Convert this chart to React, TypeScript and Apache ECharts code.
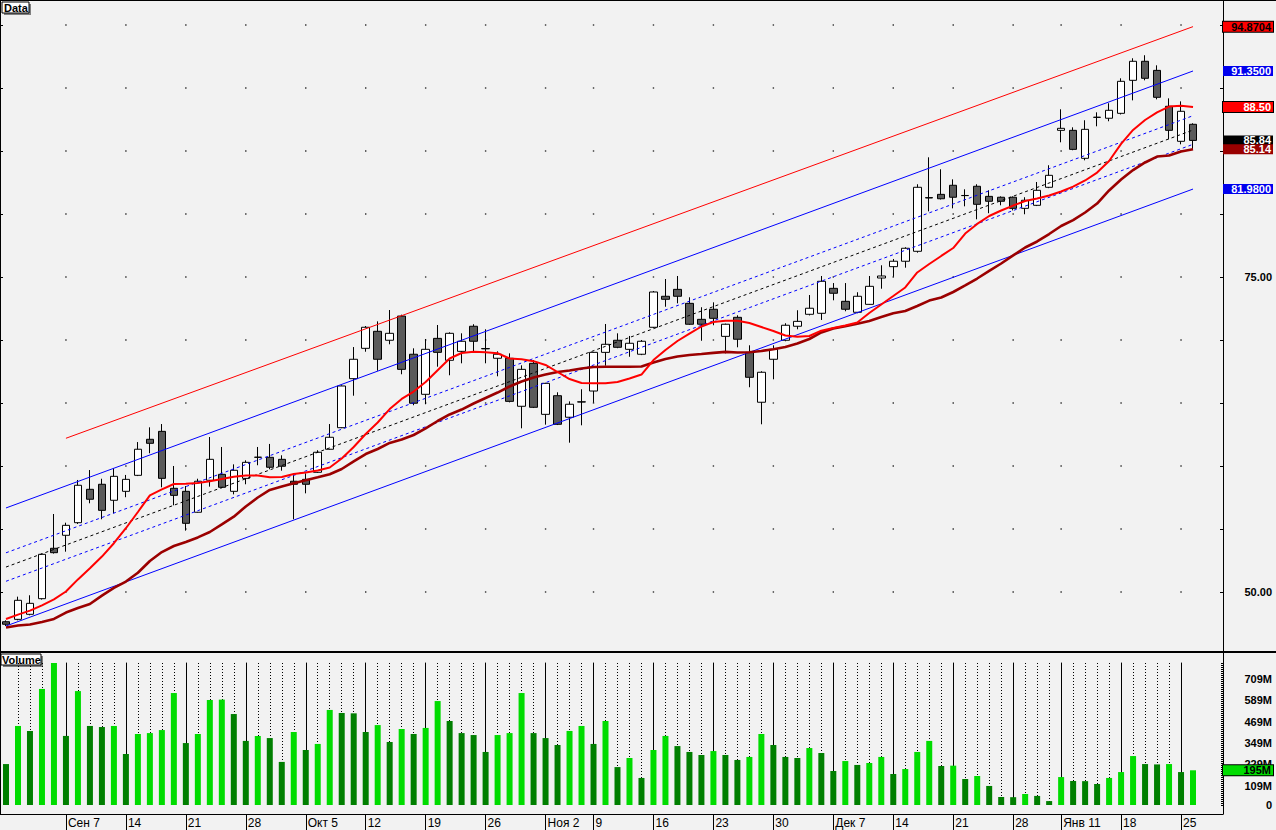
import React, { useEffect, useRef } from "react";
import * as echarts from "echarts";

// ---------- axis / tick data ----------
const slotCount = 102; // 100 trading days + 2 empty slots on the right
const categories = Array.from({ length: slotCount }, (_, i) => String(i));
const tickIndex = [5, 10, 15, 20, 25, 30, 35, 40, 45, 49, 54, 59, 64, 69, 74, 79, 84, 88, 93, 98];
const tickText = ["Сен 7", "14", "21", "28", "Окт 5", "12", "19", "26", "Ноя 2", "9", "16", "23", "30", "Дек 7", "14", "21", "28", "Янв 11", "18", "25"];
const priceTicks = [50, 55, 60, 65, 70, 75, 80, 85, 90, 95];
const priceLabels = [50, 75];
const volumeLabels = [0, 109, 229, 349, 469, 589, 709];

// ---------- OHLC ----------
const opens = [47.64, 47.83, 48.23, 49.47, 53.47, 54.5, 55.5, 58.15, 58.55, 57.28, 57.99, 59.26, 62.12, 62.75, 58.23, 57.99, 56.33, 58.87, 59.34, 57.99, 59.02, 60.7, 60.69, 60.53, 58.79, 58.94, 59.5, 61.33, 63.04, 66.93, 69.34, 70.69, 69.98, 71.9, 68.87, 65.69, 70.13, 68.39, 69.1, 71.09, 69.32, 68.55, 68.55, 64.74, 68.15, 64.1, 65.58, 63.87, 65.09, 65.95, 69.02, 69.98, 69.26, 68.87, 71.01, 73.47, 74.02, 72.91, 71.64, 72.44, 70.29, 71.8, 69.02, 65.06, 68.47, 69.98, 71.09, 72.04, 72.12, 74.1, 73.07, 72.2, 72.83, 74.92, 75.82, 76.25, 77.04, 81.3, 81.56, 82.28, 81.47, 82.2, 81.4, 81.33, 81.33, 80.45, 80.69, 82.12, 86.64, 86.64, 84.42, 87.68, 87.6, 87.99, 90.61, 92.12, 91.4, 88.55, 85.77, 87.12];
const closes = [47.44, 49.34, 49.1, 52.99, 53.12, 55.29, 58.47, 57.36, 56.48, 59.18, 58.94, 61.33, 61.8, 59.02, 57.67, 55.45, 58.79, 60.53, 58.31, 59.66, 60.29, 60.69, 59.9, 59.98, 58.55, 58.55, 61.09, 62.28, 66.35, 68.47, 71.01, 68.47, 70.53, 67.67, 64.98, 69.26, 69.02, 70.53, 69.9, 69.9, 69.3, 68.87, 65.13, 67.67, 64.66, 66.56, 63.31, 64.9, 65.08, 69.02, 69.66, 69.42, 69.74, 69.9, 73.81, 73.23, 73.47, 71.25, 71.25, 71.72, 71.25, 70.06, 67.04, 67.44, 69.26, 71.17, 71.48, 72.52, 74.66, 73.71, 72.44, 73.47, 74.26, 75.08, 76.25, 77.28, 82.12, 81.27, 81.21, 81.33, 81.46, 80.77, 81.01, 81.01, 80.45, 81.09, 81.88, 83.07, 86.8, 85.13, 86.72, 87.67, 88.23, 90.53, 92.12, 90.77, 89.26, 86.64, 88.15, 85.84];
const lows = [47.3, 47.75, 48.15, 49.4, 53.05, 53.2, 55.4, 57.04, 55.77, 56.25, 57.52, 59.2, 61.01, 58.31, 56.88, 54.87, 56.3, 58.36, 58.23, 57.75, 58.55, 60.06, 59.74, 59.63, 55.77, 57.83, 59.45, 61.3, 63.0, 65.58, 69.07, 67.56, 69.66, 67.28, 64.82, 64.9, 67.88, 67.2, 68.15, 69.1, 68.15, 67.12, 65.05, 62.99, 64.6, 63.28, 63.25, 61.85, 63.23, 65.02, 67.96, 69.35, 68.67, 68.8, 70.95, 72.64, 72.91, 71.2, 69.94, 71.17, 68.94, 69.42, 66.25, 63.31, 66.88, 69.9, 70.85, 71.95, 71.59, 73.15, 72.28, 72.12, 72.8, 74.07, 75.02, 75.74, 76.93, 80.21, 81.15, 80.45, 80.61, 79.58, 80.06, 80.69, 80.29, 79.98, 80.63, 82.05, 85.69, 85.06, 84.26, 86.96, 87.36, 87.9, 89.02, 90.61, 89.1, 85.93, 85.53, 85.13];
const highs = [47.75, 49.63, 49.74, 53.05, 56.19, 55.5, 58.89, 59.68, 58.99, 59.82, 59.29, 61.9, 63.07, 63.33, 60.0, 58.41, 58.99, 62.3, 61.51, 60.13, 60.45, 61.51, 61.75, 60.85, 59.34, 59.42, 61.25, 63.33, 66.4, 69.44, 71.11, 71.48, 72.38, 72.01, 69.34, 70.08, 71.19, 70.61, 70.53, 71.25, 70.85, 69.1, 68.94, 67.99, 68.41, 66.6, 65.85, 65.13, 66.09, 69.05, 71.27, 70.53, 70.32, 70.0, 73.89, 74.84, 75.08, 73.39, 72.6, 72.99, 71.3, 71.96, 69.58, 67.52, 69.58, 71.33, 72.36, 73.57, 75.08, 74.52, 74.52, 73.79, 75.08, 75.93, 76.43, 77.36, 82.36, 84.5, 83.55, 82.75, 81.96, 82.36, 81.88, 81.4, 81.4, 81.33, 82.54, 83.87, 88.31, 86.88, 87.44, 88.07, 88.79, 90.77, 92.36, 92.6, 91.8, 89.18, 88.94, 87.2];

// ---------- volume (millions) ----------
const volumes = [230, 444, 416, 652, 798, 388, 640, 444, 438, 444, 287, 399, 404, 421, 629, 348, 399, 590, 592, 511, 360, 388, 376, 242, 410, 309, 343, 534, 517, 515, 410, 449, 354, 427, 399, 433, 584, 472, 404, 393, 298, 393, 404, 629, 404, 376, 337, 416, 444, 343, 472, 213, 264, 152, 309, 388, 331, 298, 281, 303, 281, 253, 270, 399, 337, 270, 264, 320, 292, 191, 247, 225, 236, 270, 174, 202, 298, 360, 219, 221, 146, 163, 107, 45, 44, 62, 51, 22, 157, 135, 134, 118, 152, 185, 275, 230, 228, 230, 185, 195];

// ---------- moving averages ----------
const fastMA = [47.86, 48.2, 48.52, 48.94, 49.42, 50.04, 51.0, 51.88, 52.81, 53.87, 55.06, 56.35, 57.67, 58.14, 58.57, 58.6, 58.65, 58.79, 58.97, 59.15, 59.25, 59.25, 59.1, 59.13, 59.37, 59.48, 59.64, 59.88, 60.6, 61.51, 62.54, 63.45, 64.52, 65.32, 65.91, 66.67, 67.6, 68.53, 68.97, 69.06, 69.03, 68.95, 68.53, 68.47, 68.32, 68.02, 67.46, 66.9, 66.59, 66.56, 66.56, 66.67, 66.94, 67.26, 68.41, 69.21, 69.92, 70.5, 71.07, 71.43, 71.53, 71.53, 71.35, 71.03, 70.71, 70.36, 70.26, 70.32, 70.74, 70.95, 71.15, 71.39, 72.14, 72.82, 73.49, 74.17, 75.36, 76.03, 76.67, 77.3, 78.45, 79.21, 79.84, 80.28, 80.67, 81.03, 81.23, 81.47, 81.79, 82.17, 82.66, 83.29, 84.21, 85.56, 86.67, 87.46, 88.06, 88.53, 88.6, 88.5];
const slowMA = [47.18, 47.34, 47.42, 47.62, 47.86, 48.37, 48.73, 49.05, 49.71, 50.32, 50.83, 51.53, 52.46, 53.17, 53.65, 53.97, 54.33, 54.76, 55.36, 55.98, 56.79, 57.5, 58.1, 58.37, 58.63, 58.87, 59.1, 59.35, 59.76, 60.36, 60.95, 61.35, 61.83, 62.1, 62.46, 62.98, 63.57, 64.09, 64.48, 64.96, 65.4, 65.83, 66.31, 66.71, 67.02, 67.26, 67.46, 67.58, 67.74, 67.86, 67.88, 67.88, 67.88, 67.9, 68.21, 68.49, 68.69, 68.81, 68.89, 68.98, 69.06, 69.01, 69.03, 69.13, 69.26, 69.44, 69.72, 70.08, 70.6, 70.91, 71.09, 71.29, 71.51, 71.83, 72.12, 72.3, 72.7, 73.13, 73.37, 73.81, 74.33, 74.88, 75.48, 76.07, 76.71, 77.34, 77.82, 78.41, 79.05, 79.52, 80.12, 80.83, 81.87, 82.74, 83.49, 84.09, 84.56, 84.64, 84.96, 85.14];

// ---------- channel lines (start / end) ----------
const channelIdx = [0, 99];
const redIdx = [5, 99];
const redUpper = [62.2, 94.8704];
const channelUpper = [56.67, 91.35];
const devUpper = [53.11, 87.8];
const channelMid = [51.98, 86.665];
const devLower = [50.85, 85.53];
const channelLower = [47.3, 81.98];

const FONT = "'Liberation Sans', Arial, sans-serif";
const BRIGHT = "#00dc00";
const DARK = "#007f00";
const CLEAR = "rgba(0,0,0,0)";

const rulerTicks = Array.from({ length: 72 }, (_, k) => k * 11.2);

function pairs(idx: number[], vals: number[]) {
  return idx.map((x, k) => [x, vals[k]]);
}

function boxLabel(text: string, bg: string, fg: string, bordered: boolean) {
  return {
    show: true,
    position: "end",
    distance: 0,
    formatter: "{v|" + text + "}",
    backgroundColor: bg,
    borderColor: bordered ? "#000" : bg,
    borderWidth: bordered ? 1 : 0,
    padding: [0, 2, 0, 0],
    width: 48,
    opacity: 1,
    rich: {
      v: { color: fg, fontFamily: FONT, fontSize: 11, fontWeight: "bold", align: "right", lineHeight: 10 },
    },
  };
}

function lineSeries(name: string, data: any[], color: string, width: number, type: any = "solid") {
  return {
    name,
    type: "line",
    xAxisIndex: 0,
    yAxisIndex: 0,
    data,
    showSymbol: false,
    symbol: "none",
    silent: true,
    z: 4,
    lineStyle: { color, width, type },
  };
}

function buildOption(): any {
  const candles = opens.map((o, i) => [o, closes[i], lows[i], highs[i]]);
  const dots: number[][] = [];
  tickIndex.forEach((ti) => priceTicks.forEach((p) => dots.push([ti, p])));

  const gridLines: any[] = [];
  for (let i = 1; i <= 98; i++) {
    const solid = tickIndex.includes(i);
    gridLines.push([
      { coord: [i, 0], lineStyle: { type: solid ? "solid" : [1, 2], color: "#000", width: 1 } },
      { coord: [i, 800] },
    ]);
  }

  const last = closes.length - 1;
  const volBars = volumes.map((v, i) => ({
    value: v,
    itemStyle: { color: i > 0 && v > volumes[i - 1] ? BRIGHT : DARK },
  }));

  return {
    animation: false,
    backgroundColor: "#f2f2f2",
    grid: [
      { left: 0, top: 1, width: 1223, height: 650 },
      { left: 0, top: 653, width: 1223, height: 161 },
    ],
    xAxis: [
      {
        type: "category",
        gridIndex: 0,
        data: categories,
        boundaryGap: true,
        axisLine: { show: false },
        axisTick: { show: false },
        axisLabel: { show: false },
        splitLine: { show: false },
      },
      {
        type: "category",
        gridIndex: 1,
        data: categories,
        boundaryGap: true,
        position: "bottom",
        axisLine: { show: true, onZero: false, lineStyle: { color: "#000", width: 1 } },
        axisTick: {
          show: true,
          alignWithLabel: true,
          length: 16,
          interval: (idx: number) => tickIndex.includes(idx),
          lineStyle: { color: "#000", width: 1 },
        },
        axisLabel: {
          show: true,
          interval: (idx: number) => tickIndex.includes(idx),
          formatter: (_v: string, idx: number) => {
            const k = tickIndex.indexOf(idx);
            return k >= 0 ? tickText[k] : "";
          },
          align: "left",
          padding: [0, 0, 0, 2],
          margin: 3,
          color: "#000",
          fontFamily: FONT,
          fontSize: 12,
        },
        splitLine: { show: false },
      },
    ],
    yAxis: [
      {
        type: "value",
        gridIndex: 0,
        position: "right",
        min: 45.317,
        max: 96.905,
        axisLine: { show: true, lineStyle: { color: "#000", width: 1 } },
        axisTick: { show: true, inside: true, length: 3, customValues: priceTicks, lineStyle: { color: "#000" } },
        axisLabel: {
          show: true,
          customValues: priceLabels,
          formatter: (v: number) => v.toFixed(2),
          align: "right",
          margin: 49,
          color: "#000",
          fontFamily: FONT,
          fontSize: 11,
          fontWeight: "bold",
        },
        splitLine: { show: false },
      },
      {
        type: "value",
        gridIndex: 0,
        position: "left",
        min: 45.317,
        max: 96.905,
        axisLine: { show: true, lineStyle: { color: "#000", width: 2 } },
        axisTick: { show: true, inside: true, length: 3, customValues: priceTicks, lineStyle: { color: "#000" } },
        axisLabel: { show: false },
        splitLine: { show: false },
      },
      {
        type: "value",
        gridIndex: 1,
        position: "right",
        min: -50.56,
        max: 853.9,
        axisLine: { show: true, lineStyle: { color: "#000", width: 1 } },
        axisTick: { show: true, inside: true, length: 2, customValues: rulerTicks, lineStyle: { color: "#000" } },
        axisLabel: {
          show: true,
          customValues: volumeLabels,
          formatter: (v: number) => (v === 0 ? "0" : v + "M"),
          align: "right",
          margin: 49,
          color: "#000",
          fontFamily: FONT,
          fontSize: 11,
          fontWeight: "bold",
        },
        splitLine: { show: false },
      },
      {
        type: "value",
        gridIndex: 1,
        position: "left",
        min: -50.56,
        max: 853.9,
        axisLine: { show: true, lineStyle: { color: "#000", width: 2 } },
        axisTick: { show: false },
        axisLabel: { show: false },
        splitLine: { show: false },
      },
    ],
    series: [
      {
        name: "grid dots",
        type: "scatter",
        xAxisIndex: 0,
        yAxisIndex: 0,
        data: dots,
        symbol: "rect",
        symbolSize: 1.4,
        itemStyle: { color: "#000" },
        silent: true,
        z: 1,
      },
      {
        name: "Data",
        type: "candlestick",
        xAxisIndex: 0,
        yAxisIndex: 0,
        data: candles,
        barWidth: 8,
        z: 3,
        itemStyle: {
          color: "#ffffff",
          color0: "#5a5a5a",
          borderColor: "#000",
          borderColor0: "#000",
          borderColorDoji: "#000",
          borderWidth: 1,
        },
      },
      lineSeries("Upper envelope", pairs(redIdx, redUpper), "#ff0000", 1),
      lineSeries("Channel upper", pairs(channelIdx, channelUpper), "#0000ff", 1),
      lineSeries("Deviation upper", pairs(channelIdx, devUpper), "#0000ff", 1, [3, 3]),
      lineSeries("Channel middle", pairs(channelIdx, channelMid), "#000000", 1, [3, 3]),
      lineSeries("Deviation lower", pairs(channelIdx, devLower), "#0000ff", 1, [3, 3]),
      lineSeries("Channel lower", pairs(channelIdx, channelLower), "#0000ff", 1),
      lineSeries("Slow MA", slowMA, "#9b0000", 2.6),
      lineSeries("Fast MA", fastMA, "#ff0000", 2),
      {
        name: "price labels",
        type: "line",
        xAxisIndex: 0,
        yAxisIndex: 0,
        data: closes,
        showSymbol: false,
        symbol: "none",
        silent: true,
        lineStyle: { color: CLEAR, width: 0 },
        z: 6,
        markLine: {
          silent: true,
          symbol: "none",
          z: 20,
          lineStyle: { color: CLEAR, width: 0 },
          data: [
            { yAxis: redUpper[1], label: boxLabel(redUpper[1].toFixed(4), "#ff0000", "#000", true) },
            { yAxis: channelUpper[1], label: boxLabel(channelUpper[1].toFixed(4), "#0000ee", "#fff", false) },
            { yAxis: fastMA[last], label: boxLabel(fastMA[last].toFixed(2), "#ff0000", "#fff", true) },
            { yAxis: closes[last], label: boxLabel(closes[last].toFixed(2), "#000000", "#fff", false) },
            { yAxis: slowMA[last], label: boxLabel(slowMA[last].toFixed(2), "#990000", "#fff", false) },
            { yAxis: channelLower[1], label: boxLabel(channelLower[1].toFixed(4), "#0000ee", "#fff", false) },
          ],
        },
      },
      {
        name: "Volume",
        type: "bar",
        xAxisIndex: 1,
        yAxisIndex: 2,
        data: volBars,
        barWidth: 6,
        z: 2,
        markLine: {
          silent: true,
          symbol: "none",
          z: 1,
          label: { show: false },
          data: gridLines,
        },
      },
      {
        name: "volume label",
        type: "line",
        xAxisIndex: 1,
        yAxisIndex: 2,
        data: volumes,
        showSymbol: false,
        symbol: "none",
        silent: true,
        lineStyle: { color: CLEAR, width: 0 },
        markLine: {
          silent: true,
          symbol: "none",
          z: 20,
          lineStyle: { color: CLEAR, width: 0 },
          data: [{ yAxis: volumes[last], label: boxLabel(volumes[last] + "M", BRIGHT, "#000", true) }],
        },
      },
    ],
    graphic: [
      { type: "line", z: 50, shape: { x1: 0, y1: 0.5, x2: 1276, y2: 0.5 }, style: { stroke: "#000", lineWidth: 1 } },
      { type: "line", z: 50, shape: { x1: 0, y1: 652, x2: 1276, y2: 652 }, style: { stroke: "#000", lineWidth: 2 } },
      {
        type: "group",
        z: 60,
        children: [
          { type: "rect", shape: { x: 4, y: 4, width: 27, height: 11 }, style: { fill: "#808080" } },
          { type: "rect", shape: { x: 2, y: 2, width: 27, height: 11 }, style: { fill: "#fff", stroke: "#000", lineWidth: 1 } },
          { type: "text", x: 4, y: 2, style: { text: "Data", fill: "#000", font: "bold 11px " + FONT } },
        ],
      },
      {
        type: "group",
        z: 60,
        children: [
          { type: "rect", shape: { x: 3, y: 656, width: 40, height: 11 }, style: { fill: "#808080" } },
          { type: "rect", shape: { x: 1, y: 654, width: 40, height: 11 }, style: { fill: "#fff", stroke: "#000", lineWidth: 1 } },
          { type: "text", x: 2, y: 654, style: { text: "Volume", fill: "#000", font: "bold 11px " + FONT } },
        ],
      },
    ],
  };
}

export default function App() {
  const ref = useRef<HTMLDivElement>(null);
  useEffect(() => {
    if (!ref.current) return;
    const chart = echarts.init(ref.current, null, { renderer: "svg" });
    chart.setOption(buildOption());
    return () => chart.dispose();
  }, []);
  return (
    <div
      ref={ref}
      style={{ position: "fixed", left: 0, top: 0, width: 1276, height: 830, background: "#f2f2f2" }}
    />
  );
}
